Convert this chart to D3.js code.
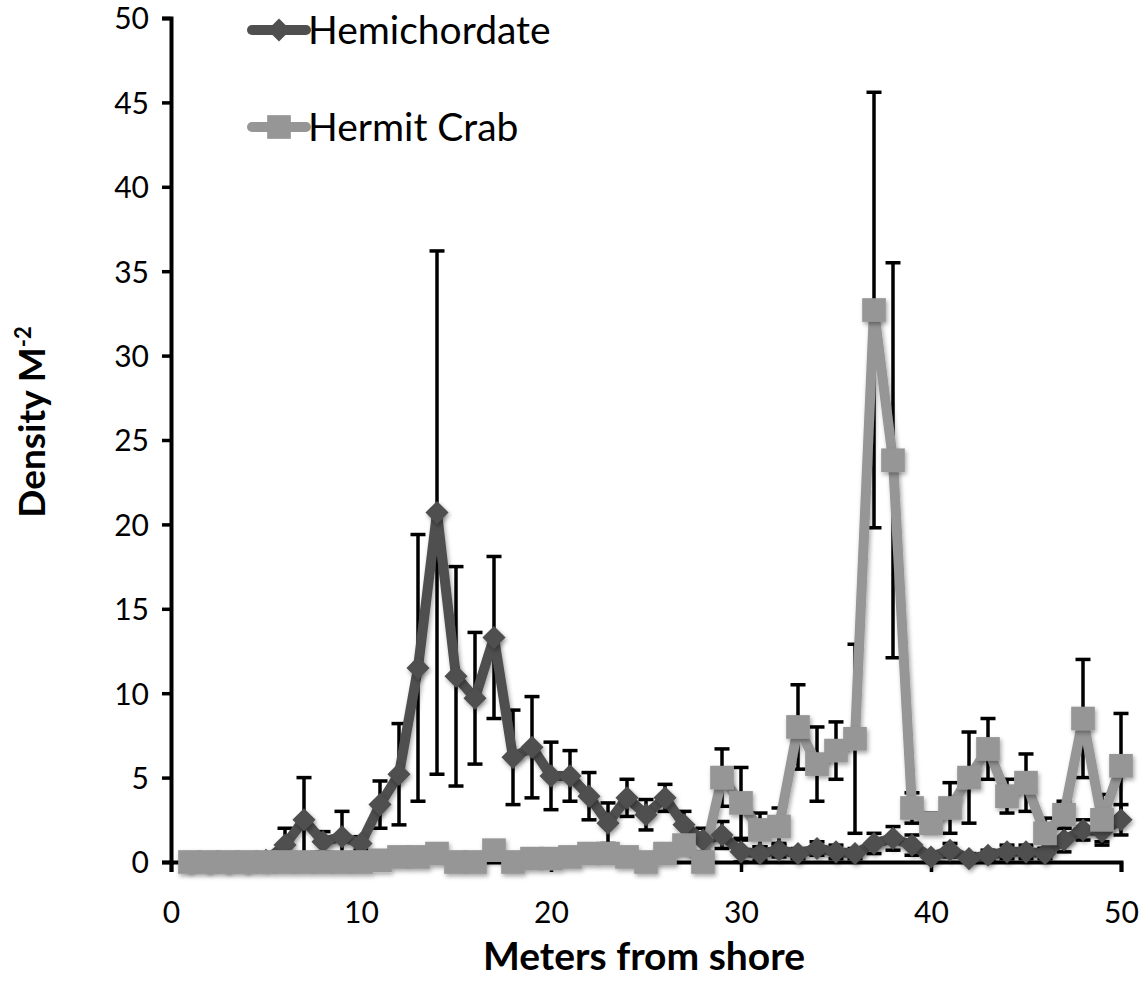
<!DOCTYPE html>
<html>
<head>
<meta charset="utf-8">
<script src="https://cdn.jsdelivr.net/npm/d3@7"></script>
<style>
  body { margin: 0; background: #fff; }
  text { font-family: Lato, "Open Sans", sans-serif; fill: #000; }
</style>
</head>
<body>
<script>
// meters from shore
const meters = d3.range(1, 51);

// hemichordate density and error
const hemiValues = [0, 0, 0, 0, 0.1, 1.0, 2.5, 1.2, 1.5, 1.1,
  3.4, 5.2, 11.5, 20.7, 11.0, 9.7, 13.3, 6.2, 6.8, 5.1,
  5.1, 3.9, 2.3, 3.8, 2.8, 3.8, 2.2, 1.3, 1.6, 0.6,
  0.5, 0.7, 0.5, 0.8, 0.6, 0.5, 1.1, 1.4, 1.0, 0.3,
  0.7, 0.2, 0.4, 0.6, 0.6, 0.5, 1.3, 1.9, 1.8, 2.5];
const hemiErr = [0, 0, 0, 0, 0.2, 1.0, 2.5, 0.6, 1.5, 0.4,
  1.4, 3.0, 7.9, 15.5, 6.5, 3.9, 4.8, 2.8, 3.0, 2.0,
  1.5, 1.4, 1.2, 1.1, 0.9, 0.8, 0.8, 0.7, 0.8, 0.7,
  0.4, 0.4, 0.3, 0.4, 0.4, 0.3, 0.6, 0.7, 0.6, 0.3,
  0.4, 0.3, 0.3, 0.4, 0.4, 0.3, 0.7, 0.6, 0.6, 0.9];

// hermit crab density and error
const crabValues = [0, 0, 0, 0, 0, 0, 0, 0, 0, 0,
  0.1, 0.3, 0.3, 0.5, 0.0, 0.0, 0.7, 0.0, 0.2, 0.2,
  0.3, 0.5, 0.5, 0.3, 0.0, 0.5, 1.0, 0.0, 5.0, 3.5,
  1.9, 2.1, 8.0, 5.8, 6.6, 7.3, 32.7, 23.8, 3.2, 2.3,
  3.2, 5.0, 6.7, 3.9, 4.7, 1.7, 2.8, 8.5, 2.5, 5.7];
const crabErr = [0, 0, 0, 0, 0, 0, 0, 0, 0, 0,
  0, 0, 0, 0, 0, 0, 0, 0, 0, 0,
  0, 0, 0, 0, 0, 0, 0, 0, 1.7, 2.1,
  1.0, 1.1, 2.5, 2.2, 1.7, 5.6, 12.9, 11.7, 0.9, 0.6,
  1.5, 2.7, 1.8, 1.0, 1.7, 0.9, 0.8, 3.5, 1.5, 3.1];

const xTicks = [0, 10, 20, 30, 40, 50];
const yTicks = d3.range(0, 55, 5);

const W = 1143, H = 989;
const svg = d3.select("body").append("svg")
    .attr("width", W).attr("height", H);

const defs = svg.append("defs");
const f = defs.append("filter").attr("id", "shadow")
    .attr("x", "-30%").attr("y", "-30%").attr("width", "160%").attr("height", "160%");
f.append("feDropShadow").attr("dx", 1.5).attr("dy", 2.5).attr("stdDeviation", 2)
    .attr("flood-color", "#000").attr("flood-opacity", 0.35);

// scales
const x = d3.scaleLinear().domain([0, 50]).range([171, 1121]);
const y = d3.scaleLinear().domain([0, 50]).range([862, 18]);

const series = [
  { name: "Hemichordate", values: hemiValues, err: hemiErr, color: "#4f4f4f", shape: "diamond" },
  { name: "Hermit Crab", values: crabValues, err: crabErr, color: "#969696", shape: "square" }
];

// error bars
series.forEach(s => {
  const g = svg.append("g");
  meters.forEach((m, i) => {
    if (!s.err[i]) return;
    const top = y(s.values[i] + s.err[i]);
    const bot = y(Math.max(0, s.values[i] - s.err[i]));
    const cx = x(m);
    g.append("line").attr("x1", cx).attr("x2", cx).attr("y1", top).attr("y2", bot)
      .attr("stroke", "#000").attr("stroke-width", 3.5);
    [top, bot].forEach(v => {
      g.append("line").attr("x1", cx - 7.5).attr("x2", cx + 7.5).attr("y1", v).attr("y2", v)
        .attr("stroke", "#000").attr("stroke-width", 3.5);
    });
  });
});

// axes
const yAxis = svg.append("g").attr("transform", "translate(171,0)")
    .call(d3.axisLeft(y).tickValues(yTicks).tickSize(9).tickPadding(13));
const xAxis = svg.append("g").attr("transform", "translate(0,862)")
    .call(d3.axisBottom(x).tickValues(xTicks).tickSize(10).tickPadding(30));
[yAxis, xAxis].forEach(a => {
  a.select(".domain").attr("stroke", "#000").attr("stroke-width", 4);
  a.selectAll(".tick line").attr("stroke", "#000").attr("stroke-width", 3.5);
  a.selectAll(".tick text").attr("font-size", 30).attr("font-family", "Lato, sans-serif");
});
yAxis.selectAll(".tick text").attr("dy", "0.36em");

const line = d3.line().x((d, i) => x(meters[i])).y(d => y(d));

// lines
series.forEach(s => {
  svg.append("path").datum(s.values).attr("d", line)
    .attr("fill", "none").attr("stroke", s.color).attr("stroke-width", 10)
    .attr("stroke-linejoin", "round").attr("filter", "url(#shadow)");
});

const diamond = d3.symbol().type(d3.symbolDiamond2).size(340);
const square = d3.symbol().type(d3.symbolSquare).size(560);

// markers
series.forEach(s => {
  svg.append("g").attr("filter", "url(#shadow)").selectAll("path")
    .data(s.values).join("path")
    .attr("transform", (d, i) => `translate(${x(meters[i])},${y(d)})`)
    .attr("d", s.shape === "diamond" ? diamond() : square())
    .attr("fill", s.color);
});

// legend
const legendY = [30, 127];
series.forEach((s, i) => {
  const g = svg.append("g").attr("transform", `translate(248,${legendY[i]})`);
  g.append("line").attr("x1", 4).attr("x2", 58).attr("y1", 0).attr("y2", 0)
    .attr("stroke", s.color).attr("stroke-width", 10).attr("stroke-linecap", "round");
  g.append("path").attr("transform", "translate(31,0)")
    .attr("d", s.shape === "diamond" ? diamond() : square()).attr("fill", s.color);
  g.append("text").attr("x", 60).attr("y", 0).attr("dy", "0.36em")
    .attr("font-size", 39).text(s.name);
});

// axis titles
svg.append("text").attr("x", 644).attr("y", 970).attr("text-anchor", "middle")
  .attr("font-size", 39).attr("font-weight", "bold").text("Meters from shore");
const yt = svg.append("text").attr("transform", "translate(45,422) rotate(-90)")
  .attr("text-anchor", "middle").attr("font-size", 37).attr("font-weight", "bold");
yt.append("tspan").text("Density M");
yt.append("tspan").attr("font-size", 22).attr("dy", -14).text("-2");
</script>
</body>
</html>
